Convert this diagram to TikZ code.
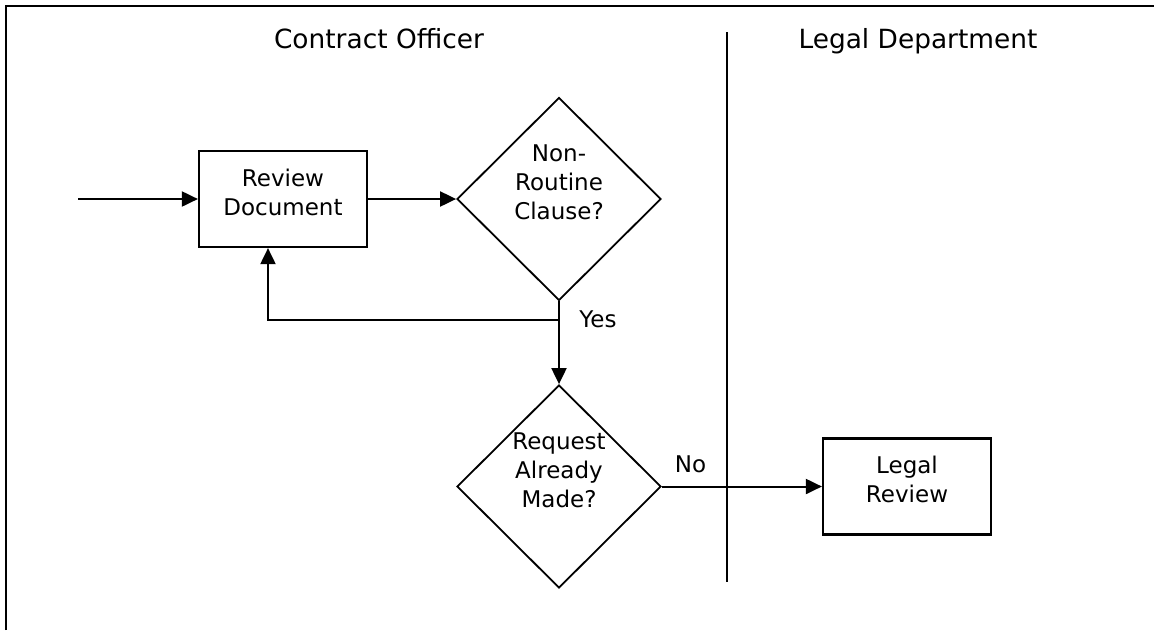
\documentclass[tikz,border=0pt]{standalone}
\usepackage{fontspec}
\setmainfont{DejaVu Sans}
\usetikzlibrary{shapes.geometric,arrows.meta}
\begin{document}
\begin{tikzpicture}[x=1pt,y=-1pt,
  line/.style={line width=2pt},
  arr/.style={line width=2pt,-{Triangle[length=16pt,width=15pt]}},
  box/.style={draw,line width=2.2pt,minimum width=168pt,minimum height=96pt,inner sep=0pt},
  diam/.style={draw,diamond,line width=1.8pt,minimum width=204pt,minimum height=203pt,inner sep=0pt},
  txt/.style={align=center,font=\fontsize{23}{29}\selectfont,inner sep=0pt},
  title/.style={font=\fontsize{26.4}{32}\selectfont,anchor=base,inner sep=0pt},
  lbl/.style={font=\fontsize{23}{29}\selectfont,anchor=base,inner sep=0pt}]
\useasboundingbox (0,0) rectangle (1154,630);
% frame and lane divider
\draw[line width=2.6pt] (6,630) -- (6,6) -- (1154,6);
\draw[line] (727,32) -- (727,582);
% lane titles
\node[title] (t1) at (379,48) {Contract Officer};
\node[title] (t2) at (918,48) {Legal Department};
% shapes
\node[box] (rd) at (283,199) {};
\node[txt] (rdt) at (283,192) {Review\\Document};
\node[diam] (d1) at (559,199) {};
\node[txt] (d1t) at (559,182.5) {Non-\\Routine\\Clause?};
\node[diam] (d2) at (559,486.5) {};
\node[txt] (d2t) at (559,470.5) {Request\\Already\\Made?};
\node[box] (lr) at (907,486.5) {};
\node[txt] (lrt) at (907,479) {Legal\\Review};
% connectors
\coordinate (start) at (78,199);
\coordinate (j) at (559,320);
\draw[arr] (start) -- (rd.west);
\draw[arr] (rd.east) -- (d1.west);
\draw[arr] (d1.south) -- (d2.north);
\draw[arr] (j) -| ([xshift=-15pt]rd.south);
\draw[arr] (d2.east) -- (lr.west);
% labels
\node[lbl] (yes) at (598,327) {Yes};
\node[lbl] (no) at (690.5,472) {No};
\end{tikzpicture}
\end{document}
